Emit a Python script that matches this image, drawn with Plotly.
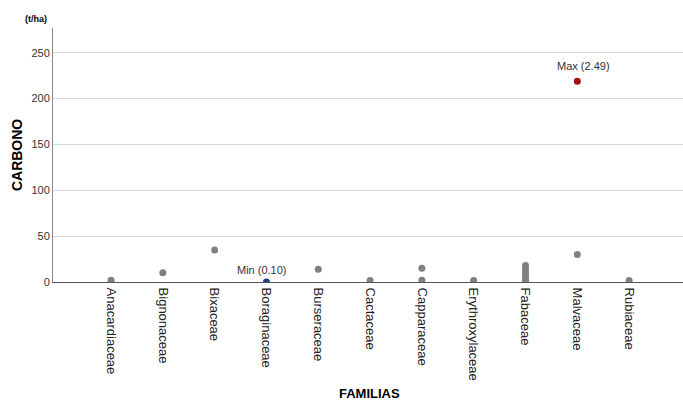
import plotly.graph_objects as go

# Families on the category axis
familias = ["Anacardiaceae", "Bignonaceae", "Bixaceae", "Boraginaceae", "Burseraceae",
            "Cactaceae", "Capparaceae", "Erythroxylaceae", "Fabaceae", "Malvaceae", "Rubiaceae"]

# Carbon stock (t/ha) per observation, grouped by family
obs_familia = ["Anacardiaceae", "Bignonaceae", "Bixaceae", "Burseraceae", "Cactaceae",
               "Capparaceae", "Capparaceae", "Erythroxylaceae",
               "Fabaceae", "Fabaceae", "Fabaceae", "Fabaceae", "Fabaceae", "Fabaceae",
               "Malvaceae", "Rubiaceae"]
obs_carbono = [2, 10, 35, 14, 1.5,
               15, 2, 1.5,
               18, 14, 10, 6, 3, 1,
               30, 1.5]

# Extreme observations
max_familia, max_carbono, max_label = "Malvaceae", 219, "Max (2.49)"
min_familia, min_carbono, min_label = "Boraginaceae", 0.10, "Min (0.10)"

y_ticks = [0, 50, 100, 150, 200, 250]

fig = go.Figure()
fig.add_trace(go.Scatter(
    x=obs_familia, y=obs_carbono, mode="markers",
    marker=dict(color="#808080", size=7), cliponaxis=True, showlegend=False))
fig.add_trace(go.Scatter(
    x=[max_familia], y=[max_carbono], mode="markers",
    marker=dict(color="#a50f0f", size=7), showlegend=False))
fig.add_trace(go.Scatter(
    x=[min_familia], y=[min_carbono], mode="markers",
    marker=dict(color="#1f3c8f", size=7), cliponaxis=True, showlegend=False))

fig.add_annotation(x=max_familia, y=max_carbono, text=max_label, showarrow=False,
                   yshift=15, xshift=6, font=dict(size=11, color="#333333"))
fig.add_annotation(x=min_familia, y=min_carbono, text=min_label, showarrow=False,
                   yshift=12, xshift=-4, font=dict(size=11, color="#333333"))

fig.add_annotation(xref="paper", yref="paper", x=-0.027, y=1.0, yshift=16,
                   text="<b>(t/ha)</b>", showarrow=False, xanchor="center",
                   font=dict(size=9, color="#000000"))
fig.add_annotation(xref="paper", yref="paper", x=-0.057, y=0.5, xanchor="center",
                   text="<b>CARBONO</b>", textangle=-90, showarrow=False,
                   font=dict(size=14, color="#000000"))
fig.add_annotation(xref="paper", yref="paper", x=0.503, y=0, yshift=-111,
                   text="<b>FAMILIAS</b>", showarrow=False, yanchor="middle",
                   font=dict(size=13, color="#000000"))

fig.update_layout(
    width=683, height=400,
    margin=dict(l=53, r=0, t=28, b=118),
    plot_bgcolor="white", paper_bgcolor="white",
    font=dict(family="Liberation Sans, Arial, sans-serif", size=11, color="#333333"),
    xaxis=dict(
        type="category", categoryorder="array", categoryarray=familias,
        range=[-1.12, 11.04], tickangle=90, showgrid=False,
        showline=True, linecolor="#555555", linewidth=1, ticks="",
        ticklabelstandoff=2,
        tickfont=dict(size=13, color="#222222"), zeroline=False),
    yaxis=dict(
        range=[0, 277], tickvals=y_ticks, showgrid=True, gridcolor="#d9d9d9",
        showline=True, linecolor="#888888", linewidth=1, ticks="",
        zeroline=False, tickfont=dict(size=11, color="#333333")),
)

fig.write_html("out.html")
